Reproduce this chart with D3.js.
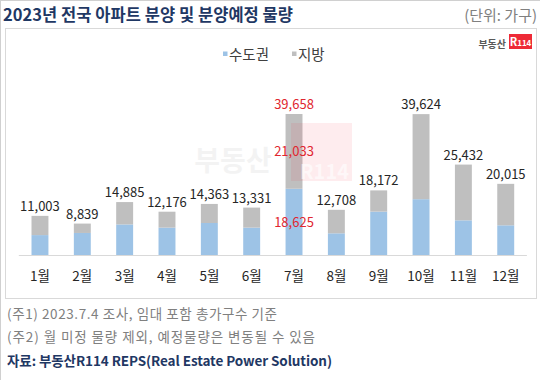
<!DOCTYPE html>
<html><head><meta charset="utf-8">
<script src="https://cdn.jsdelivr.net/npm/d3@7"></script>
<style>
html,body{margin:0;padding:0;background:#fff;}
svg{display:block;font-family:"Noto Sans CJK KR","Noto Sans",sans-serif;}
</style></head>
<body>
<svg id="c" width="540" height="380"></svg>
<script>
const months = ["1월","2월","3월","4월","5월","6월","7월","8월","9월","10월","11월","12월"];
const capital = [5600, 6200, 8600, 7700, 9000, 7700, 18625, 6100, 12200, 15700, 9750, 8350];
const totals = [11003, 8839, 14885, 12176, 14363, 13331, 39658, 12708, 18172, 39624, 25432, 20015];
const local = totals.map((t,i)=>t-capital[i]);
const seriesNames = ["수도권","지방"];
const title = "2023년 전국 아파트 분양 및 분양예정 물량";
const unit = "(단위: 가구)";
const notes = ["(주1) 2023.7.4 조사, 임대 포함 총가구수 기준","(주2) 월 미정 물량 제외, 예정물량은 변동될 수 있음"];
const source = "자료: 부동산R114 REPS(Real Estate Power Solution)";
const highlightMonth = "7월";

const svg = d3.select("#c");
const blue = "#9dc3e6", gray = "#bfbfbf", navy = "#1f3864", red = "#e0262f";

// frame
svg.append("line").attr("x1",0).attr("x2",540).attr("y1",0.5).attr("y2",0.5).attr("stroke","#d0d0d0");
svg.append("line").attr("x1",0.5).attr("x2",0.5).attr("y1",0).attr("y2",380).attr("stroke","#d0d0d0");
svg.append("rect").attr("x",5.5).attr("y",28.5).attr("width",531).attr("height",270)
  .attr("fill","#fff").attr("stroke","#d9d9d9");

svg.append("text").attr("x",3).attr("y",21).attr("font-size",16.5).attr("font-weight","bold")
  .attr("fill",navy).attr("textLength",290).attr("lengthAdjust","spacing").text(title);
svg.append("text").attr("x",537).attr("y",20.5).attr("text-anchor","end").attr("font-size",15)
  .attr("fill","#808080").text(unit);

const x = d3.scaleBand().domain(months).range([18.8,526.9]).paddingInner(0.6).paddingOuter(0.3);
const y = d3.scaleLinear().domain([0,45000]).range([255,95]);

const stack = d3.stack().keys([0,1]).value((d,k)=>k===0?d.c:d.l);
const rows = months.map((m,i)=>({m, c:capital[i], l:local[i], t:totals[i]}));
const layers = stack(rows);
const colors = [blue, gray];

const g = svg.append("g");
layers.forEach((layer,k)=>{
  g.selectAll(null).data(layer).enter().append("rect")
    .attr("x",d=>x(d.data.m)).attr("width",x.bandwidth())
    .attr("y",d=>y(d[1])).attr("height",d=>y(d[0])-y(d[1]))
    .attr("fill",colors[k]);
});

// watermark
const wm = svg.append("g").attr("pointer-events","none");
wm.append("text").attr("x",233).attr("y",171).attr("text-anchor","middle").attr("font-size",28)
  .attr("font-weight","bold").attr("fill","#000").attr("opacity",0.045).text("부동산");
wm.append("rect").attr("x",291).attr("y",123).attr("width",61).attr("height",58)
  .attr("fill","#f03040").attr("opacity",0.09);
wm.append("text").attr("x",349).attr("y",179).attr("text-anchor","end").attr("font-size",20)
  .attr("font-weight","bold").attr("fill","#fff").attr("opacity",0.6).text("R114");

// baseline
svg.append("line").attr("x1",18.8).attr("x2",526.9).attr("y1",255.5).attr("y2",255.5)
  .attr("stroke","#d9d9d9").attr("stroke-width",1);

// value labels
const lbl = svg.append("g").attr("font-size",13).attr("text-anchor","middle");
rows.forEach(d=>{
  const cx = x(d.m)+x.bandwidth()/2;
  const hi = d.m===highlightMonth;
  lbl.append("text").attr("x",cx).attr("y",y(d.t)-5).attr("fill",hi?red:"#262626")
    .text(d3.format(",")(d.t));
  if(hi){
    lbl.append("text").attr("x",cx).attr("y",(y(d.t)+y(d.c))/2+4.5).attr("fill",red)
      .text(d3.format(",")(d.l));
    lbl.append("text").attr("x",cx).attr("y",(y(0)+y(d.c))/2+5).attr("fill",red)
      .text(d3.format(",")(d.c));
  }
});

// x axis
const xa = svg.append("g").attr("transform","translate(0,255)")
  .call(d3.axisBottom(x).tickSize(0).tickPadding(16));
xa.select(".domain").remove();
xa.selectAll("text").attr("font-size",13.5).attr("fill","#262626")
  .attr("font-family","'Noto Sans CJK KR',sans-serif");

// legend
const leg = svg.append("g").attr("font-size",14.5).attr("fill","#404040");
[[223,blue,seriesNames[0]],[292,gray,seriesNames[1]]].forEach(([lx,c,t])=>{
  leg.append("rect").attr("x",lx).attr("y",51.5).attr("width",4.5).attr("height",4.5).attr("fill",c);
  leg.append("text").attr("x",lx+6).attr("y",59.5).text(t);
});

// logo
svg.append("text").attr("x",506).attr("y",47.5).attr("text-anchor","end").attr("font-size",10)
  .attr("font-weight","bold").attr("fill","#595959").text("부동산");
svg.append("rect").attr("x",509).attr("y",34).attr("width",23).attr("height",15).attr("fill","#ee2a37");
const lt = svg.append("text").attr("x",520.5).attr("y",46).attr("text-anchor","middle")
  .attr("font-weight","bold").attr("fill","#fff");
lt.append("tspan").attr("font-size",11).text("R");
lt.append("tspan").attr("font-size",8).text("114");

// notes
notes.forEach((n,i)=>{
  svg.append("text").attr("x",7).attr("y",319+i*23).attr("font-size",13.5).attr("fill","#808080")
    .attr("textLength",[270,308][i]).attr("lengthAdjust","spacing").text(n);
});
svg.append("text").attr("x",7).attr("y",366).attr("font-size",13.5).attr("font-weight","bold")
  .attr("fill",navy).attr("textLength",325).attr("lengthAdjust","spacing").text(source);
</script>
</body></html>
